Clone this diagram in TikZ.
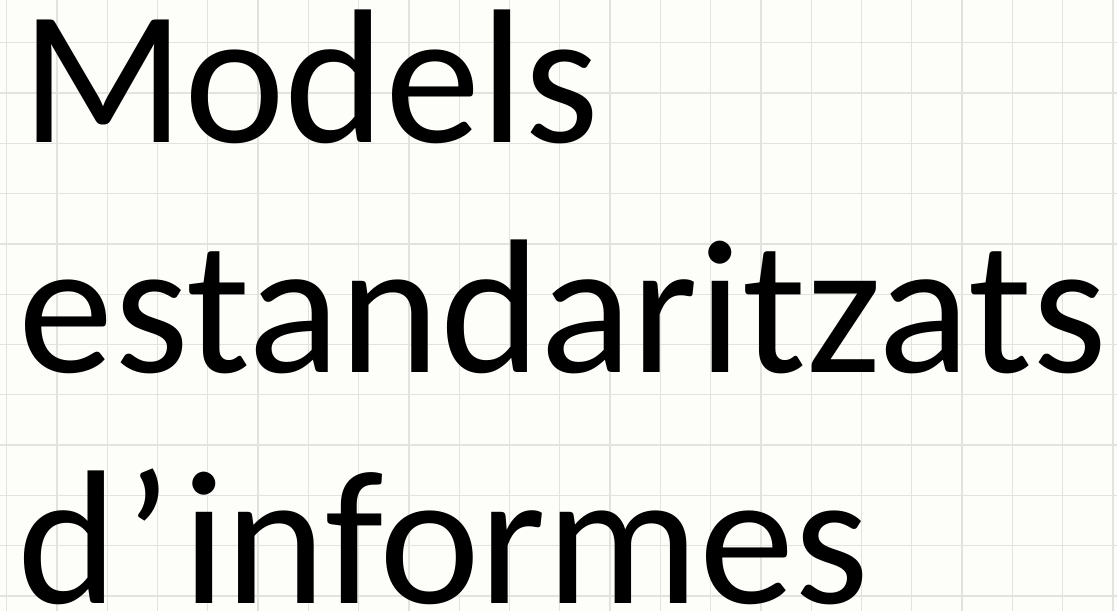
\documentclass[tikz,border=0pt]{standalone}
\usepackage{fontspec}
\setmainfont{Carlito}
\definecolor{paper}{HTML}{FDFDF9}
\definecolor{gridc}{HTML}{E2E2DE}
\tikzset{
  gridline/.style={draw=gridc, line width=1.3pt},
  title/.style={anchor=base west, inner sep=0pt, outer sep=0pt, font=\fontsize{191pt}{230pt}\selectfont, text=black}
}
\begin{document}
\begin{tikzpicture}[x=1pt,y=1pt]
\fill[paper] (0,0) rectangle (1117,611);
\useasboundingbox (0,0) rectangle (1117,611);
\foreach \i in {0,...,22} {
  \draw[gridline] ({6.7+50.28*\i},0) -- ({6.7+50.28*\i},611);
}
\foreach \j in {0,...,11} {
  \draw[gridline] (0,{611-42.7-50.3*\j}) -- (1117,{611-42.7-50.3*\j});
}
\node[title] (l1) at (21,{611-143}) {Models};
\node[title] (l2) at (19,{611-373}) {estandaritzats};
\node[title] (l3) at (17,{611-603}) {d\kern7pt’\kern10pt informes};
\end{tikzpicture}
\end{document}
